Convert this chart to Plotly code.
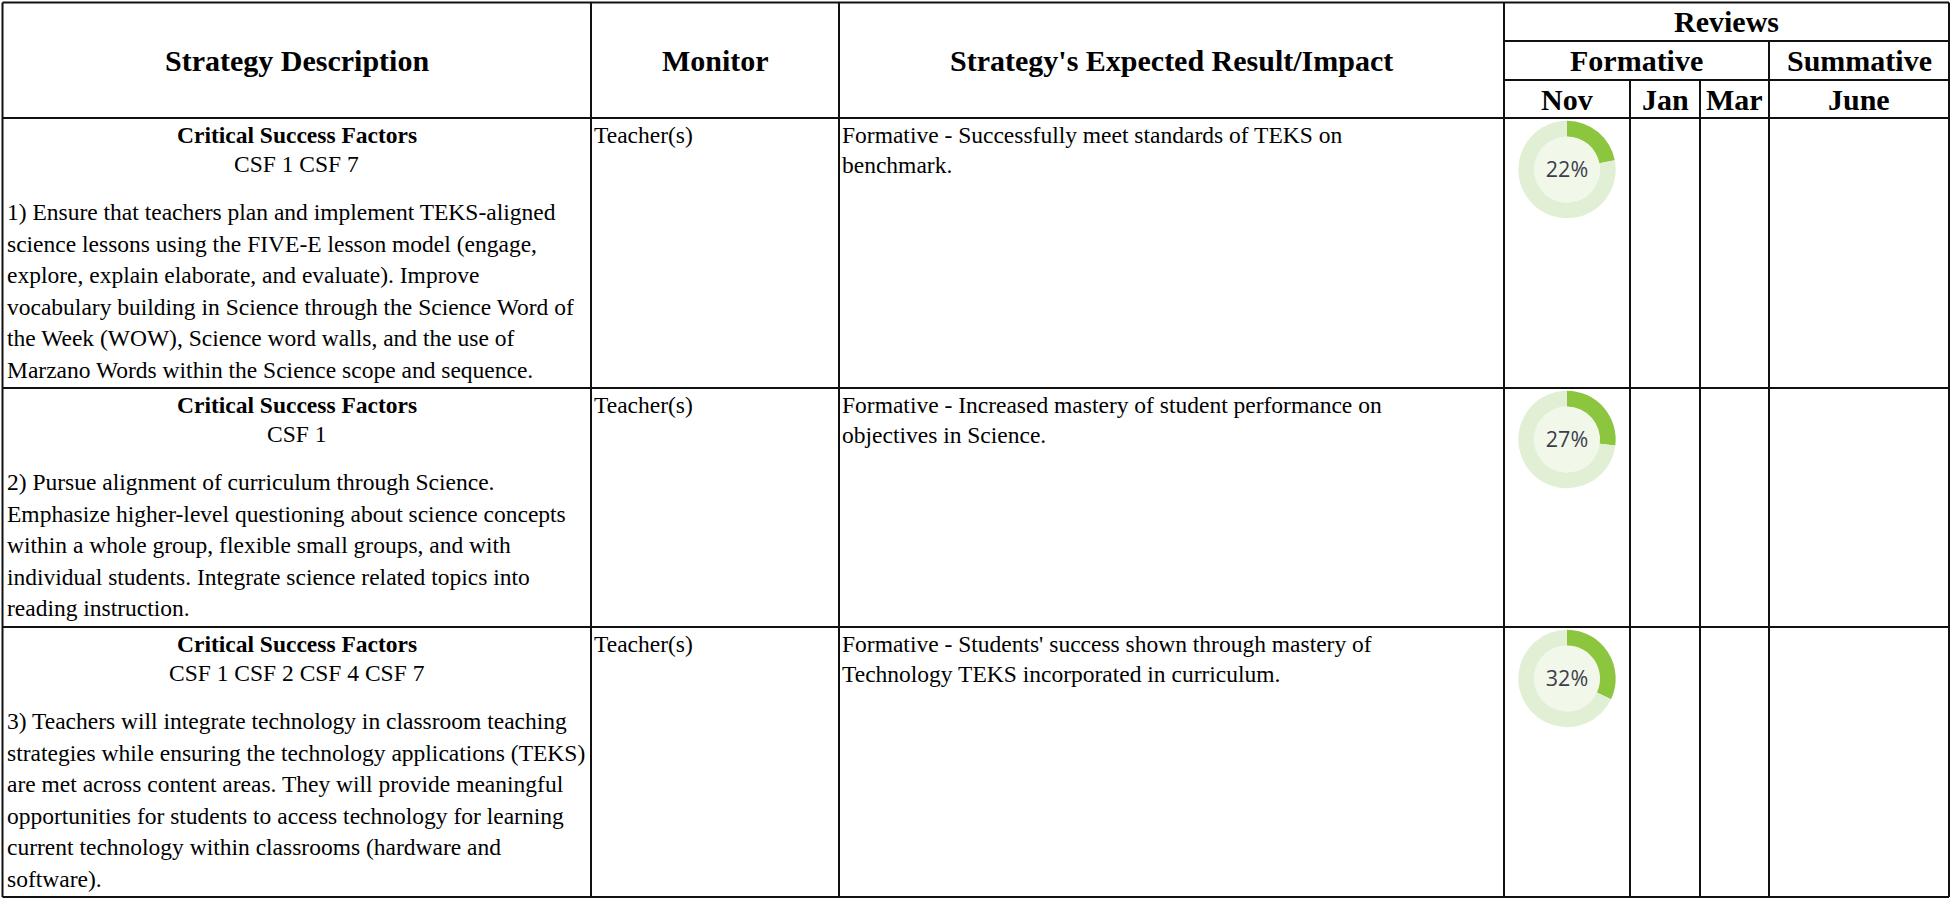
import plotly.graph_objects as go

W, H = 1951, 900

# ---------------- data ----------------
header_titles = ["Strategy Description", "Monitor", "Strategy's Expected Result/Impact"]
review_title = "Reviews"
review_groups = ["Formative", "Summative"]
review_months = ["Nov", "Jan", "Mar", "June"]

csf_title = "Critical Success Factors"
csf_codes = ["CSF 1 CSF 7", "CSF 1", "CSF 1 CSF 2 CSF 4 CSF 7"]
strategy_lines = [
    ["1) Ensure that teachers plan and implement TEKS-aligned",
     "science lessons using the FIVE-E lesson model (engage,",
     "explore, explain elaborate, and evaluate). Improve",
     "vocabulary building in Science through the Science Word of",
     "the Week (WOW), Science word walls, and the use of",
     "Marzano Words within the Science scope and sequence."],
    ["2) Pursue alignment of curriculum through Science.",
     "Emphasize higher-level questioning about science concepts",
     "within a whole group, flexible small groups, and with",
     "individual students. Integrate science related topics into",
     "reading instruction."],
    ["3) Teachers will integrate technology in classroom teaching",
     "strategies while ensuring the technology applications (TEKS)",
     "are met across content areas. They will provide meaningful",
     "opportunities for students to access technology for learning",
     "current technology within classrooms (hardware and",
     "software)."],
]
monitor_names = ["Teacher(s)", "Teacher(s)", "Teacher(s)"]
impact_lines = [
    ["Formative - Successfully meet standards of TEKS on", "benchmark."],
    ["Formative - Increased mastery of student performance on", "objectives in Science."],
    ["Formative - Students' success shown through mastery of",
     "Technology TEKS incorporated in curriculum."],
]
nov_progress = [22, 27, 32]

# ---------------- layout constants (px) ----------------
X_L, X_R = 2.5, 1949
COL_X = [591, 839, 1504]              # main column separators
MONTH_X = [1504, 1630, 1700, 1769, 1949]
Y_T, Y_B = 2.5, 897
Y_REV, Y_GRP, Y_HEAD = 41, 80, 118
ROW_TOPS = [118, 388, 627]

SERIF = "Liberation Serif, Times New Roman, serif"
BODY = 23.5
HEAD = 30
PITCH = 31.5
LINE_C = "#111111"

fig = go.Figure()

shapes = []
def hline(y, x0, x1):
    shapes.append(dict(type="line", xref="x", yref="y", x0=x0, x1=x1, y0=y, y1=y,
                       line=dict(color=LINE_C, width=2)))
def vline(x, y0, y1):
    shapes.append(dict(type="line", xref="x", yref="y", x0=x, x1=x, y0=y0, y1=y1,
                       line=dict(color=LINE_C, width=2)))

# outer border
hline(Y_T, X_L, X_R); hline(Y_B, X_L, X_R)
vline(X_L, Y_T, Y_B); vline(X_R, Y_T, Y_B)
for cx in COL_X:
    vline(cx, Y_T, Y_B)
hline(Y_REV, MONTH_X[0], X_R)
hline(Y_GRP, MONTH_X[0], X_R)
vline(MONTH_X[3], Y_REV, Y_B)
vline(MONTH_X[1], Y_GRP, Y_B)
vline(MONTH_X[2], Y_GRP, Y_B)
for rt in ROW_TOPS:
    hline(rt, X_L, X_R)

ann = []
def text(x, y, s, size=BODY, bold=False, anchor="left", family=SERIF, color="#000000"):
    ann.append(dict(x=x, y=y, xref="x", yref="y", text=("<b>%s</b>" % s) if bold else s,
                    showarrow=False, xanchor=anchor, yanchor="middle",
                    font=dict(family=family, size=size, color=color)))

# headers
col_bounds = [X_L] + COL_X
head_y = (Y_T + Y_HEAD) / 2
for i, t in enumerate(header_titles):
    text((col_bounds[i] + col_bounds[i + 1]) / 2, head_y, t, size=HEAD, bold=True, anchor="center")
text((MONTH_X[0] + X_R) / 2, (Y_T + Y_REV) / 2, review_title, size=HEAD, bold=True, anchor="center")
text((MONTH_X[0] + MONTH_X[3]) / 2, (Y_REV + Y_GRP) / 2, review_groups[0], size=HEAD, bold=True, anchor="center")
text((MONTH_X[3] + MONTH_X[4]) / 2, (Y_REV + Y_GRP) / 2, review_groups[1], size=HEAD, bold=True, anchor="center")
for i, m in enumerate(review_months):
    text((MONTH_X[i] + MONTH_X[i + 1]) / 2, (Y_GRP + Y_HEAD) / 2, m, size=HEAD, bold=True, anchor="center")

# body rows
c1_center = (X_L + COL_X[0]) / 2
for r, top in enumerate(ROW_TOPS):
    text(c1_center, top + 17, csf_title, bold=True, anchor="center")
    text(c1_center, top + 46, csf_codes[r], anchor="center")
    for k, line in enumerate(strategy_lines[r]):
        text(X_L + 2, top + 94 + k * PITCH, line)
    text(COL_X[0] + 1, top + 17, monitor_names[r])
    for k, line in enumerate(impact_lines[r]):
        text(COL_X[1] + 1, top + 17 + k * 30, line)

# donuts in the Nov column
R_OUT, R_IN = 48.7, 33
cx = (MONTH_X[0] + MONTH_X[1]) / 2
for r, top in enumerate(ROW_TOPS):
    cy = top + 51.5
    shapes.append(dict(type="circle", xref="x", yref="y", x0=cx - R_IN, x1=cx + R_IN,
                       y0=cy - R_IN, y1=cy + R_IN, fillcolor="#f1f8ea",
                       line=dict(width=0), layer="below"))
    v = nov_progress[r]
    fig.add_trace(go.Pie(
        values=[v, 100 - v], sort=False, direction="clockwise", rotation=0,
        hole=R_IN / R_OUT, textinfo="none", hoverinfo="skip", showlegend=False,
        marker=dict(colors=["#8cc63e", "#e1f0d4"], line=dict(width=0)),
        domain=dict(x=[(cx - R_OUT) / W, (cx + R_OUT) / W],
                    y=[1 - (cy + R_OUT) / H, 1 - (cy - R_OUT) / H]),
        title=dict(text="%d%%" % v, position="middle center",
                   font=dict(family="Open Sans, sans-serif", size=21.5, color="#3d3d4d")),
    ))

fig.update_layout(
    width=W, height=H, margin=dict(l=0, r=0, t=0, b=0),
    paper_bgcolor="white", plot_bgcolor="white",
    xaxis=dict(range=[0, W], visible=False, fixedrange=True),
    yaxis=dict(range=[H, 0], visible=False, fixedrange=True),
    shapes=shapes, annotations=ann, showlegend=False,
)

fig.write_html("out.html", config={"displayModeBar": False},
               post_script="document.body.style.margin='0';document.body.style.overflow='hidden';document.documentElement.style.overflow='hidden';")
